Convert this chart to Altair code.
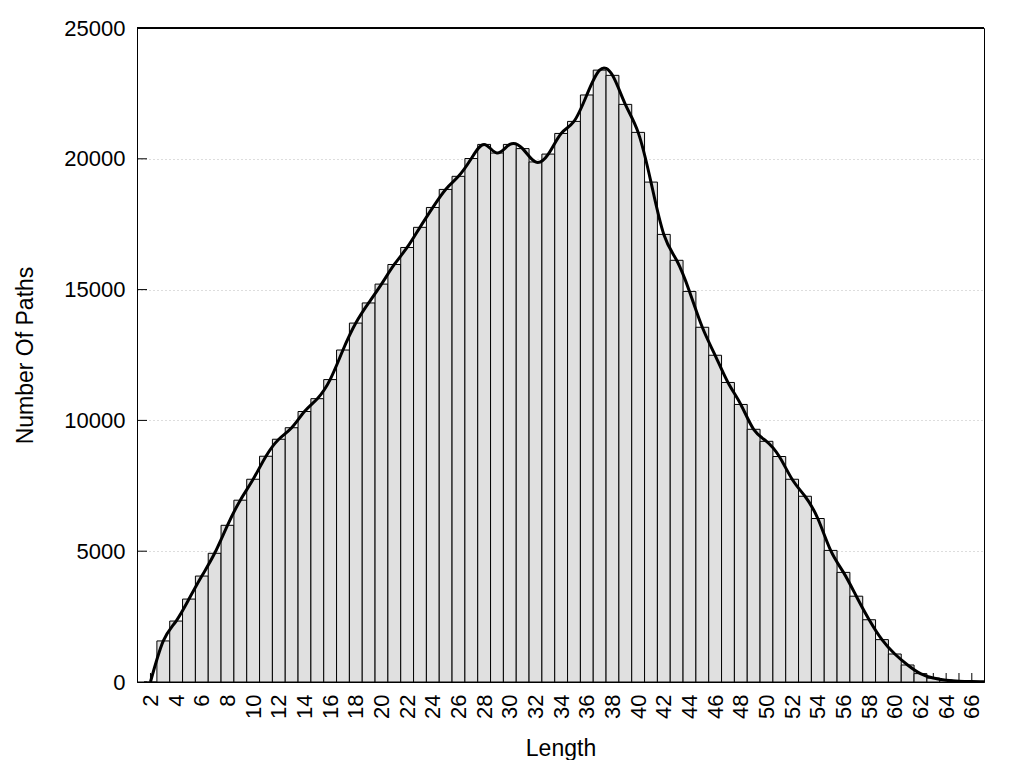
import altair as alt
import pandas as pd

# ---- data ----
lengths = [2, 3, 4, 5, 6, 7, 8, 9, 10, 11, 12, 13, 14, 15, 16, 17, 18, 19, 20,
           21, 22, 23, 24, 25, 26, 27, 28, 29, 30, 31, 32, 33, 34, 35, 36, 37,
           38, 39, 40, 41, 42, 43, 44, 45, 46, 47, 48, 49, 50, 51, 52, 53, 54,
           55, 56, 57, 58, 59, 60, 61, 62, 63, 64, 65, 66, 67]
counts = [0, 1570, 2330, 3170, 4050, 4920, 5990, 6950, 7750, 8630, 9280, 9720,
          10340, 10830, 11560, 12690, 13720, 14490, 15210, 15960, 16610, 17380,
          18140, 18830, 19330, 20010, 20550, 20220, 20550, 20390, 19880, 20180,
          20970, 21430, 22440, 23390, 23190, 22080, 21010, 19110, 17110, 16120,
          14930, 13560, 12490, 11450, 10610, 9660, 9200, 8620, 7750, 7100, 6250,
          5030, 4190, 3280, 2380, 1620, 1070, 650, 320, 150, 70, 30, 15, 5]
x_tick_marks = [2, 3, 4, 5, 6, 7, 8, 9, 10, 11, 12, 13, 14, 15, 16, 17, 18, 19,
                20, 21, 22, 23, 24, 25, 26, 27, 28, 29, 30, 31, 32, 33, 34, 35,
                36, 37, 38, 39, 40, 41, 42, 43, 44, 45, 46, 47, 48, 49, 50, 51,
                52, 53, 54, 55, 56, 57, 58, 59, 60, 61, 62, 63, 64, 65, 66]
x_labels = [2, 4, 6, 8, 10, 12, 14, 16, 18, 20, 22, 24, 26, 28, 30, 32, 34, 36,
            38, 40, 42, 44, 46, 48, 50, 52, 54, 56, 58, 60, 62, 64, 66]
y_ticks = [0, 5000, 10000, 15000, 20000, 25000]

W, H = 847, 654
FONT = "Liberation Sans"

df = pd.DataFrame({"length": lengths, "count": counts})
df["lo"] = df["length"] - 0.5
df["hi"] = df["length"] + 0.5
xt = pd.DataFrame({"length": x_tick_marks})
yt = pd.DataFrame({"count": y_ticks})

xscale = alt.Scale(domain=[0.95, 66.95], nice=False, zero=False)
yscale = alt.Scale(domain=[0, 25000], nice=False)

xaxis = alt.Axis(title="Length", values=x_labels, labelAngle=270, ticks=False,
                 labelPadding=12, labelOverlap=False, labelFlush=False,
                 grid=False, titlePadding=19, format="d")
yaxis = alt.Axis(title="Number Of Paths", values=y_ticks, ticks=False,
                 labelPadding=12, labelOverlap=False, labelFlush=False,
                 grid=True, gridColor="#bbbbbb", gridDash=[1, 3], gridWidth=1,
                 titlePadding=26, format="d")

def X(field):
    return alt.X(field, type="quantitative", scale=xscale, axis=xaxis)

def Y(field):
    return alt.Y(field, type="quantitative", scale=yscale, axis=yaxis)

xticks = alt.Chart(xt).mark_rule(color="black", strokeWidth=1).encode(
    x=X("length"), y=alt.value(H), y2=alt.value(H - 9)
)
yticks = alt.Chart(yt).mark_rule(color="black", strokeWidth=1).encode(
    y=Y("count"), x=alt.value(0), x2=alt.value(10)
)
bars = alt.Chart(df).mark_rect(fill="#e0e0e0", stroke="black", strokeWidth=1,
                               clip=True).encode(
    x=X("lo"), x2="hi", y=Y("count"), y2=alt.datum(0)
)
line = alt.Chart(df).mark_line(color="black", strokeWidth=3,
                               interpolate="natural", clip=True).encode(
    x=X("length"), y=Y("count")
)
top_border = alt.Chart(yt).mark_rule(color="black", strokeWidth=1).encode(
    y=alt.value(0), x=alt.value(0), x2=alt.value(W)
)

chart = alt.layer(xticks, yticks, bars, line, top_border).properties(
    width=W, height=H,
    autosize=alt.AutoSizeParams(type="none"),
    padding={"left": 129, "top": 20, "right": 30, "bottom": 78},
).configure_view(
    stroke="black", strokeWidth=1
).configure_axis(
    domainColor="black", domainWidth=1,
    labelFont=FONT, labelFontSize=22, labelColor="black",
    titleFont=FONT, titleFontSize=23, titleColor="black", titleFontWeight="normal",
)

chart.save("out.html", embed_options={"renderer": "svg", "actions": False})
